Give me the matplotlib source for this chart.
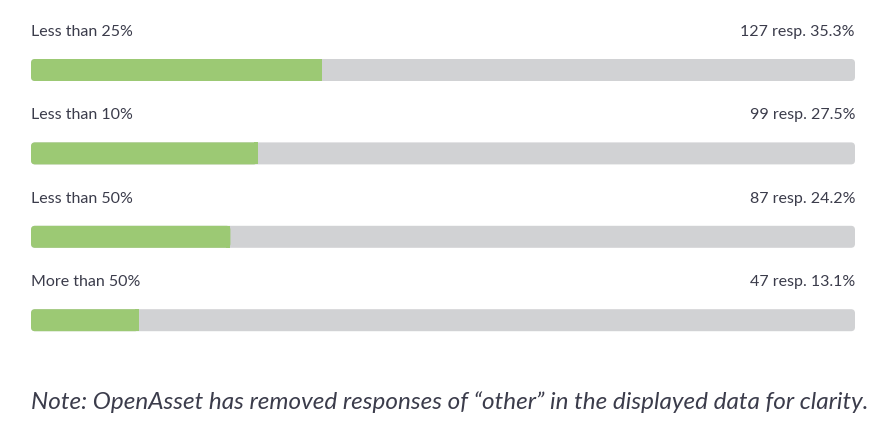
import matplotlib
matplotlib.use('Agg')
import matplotlib.pyplot as plt
from matplotlib.patches import FancyBboxPatch, Rectangle

# survey answers, shown in the order of the picture
labels = ['Less than 25%', 'Less than 10%', 'Less than 50%', 'More than 50%']
responses = [127, 99, 87, 47]
percents = [35.3, 27.5, 24.2, 13.1]
note = 'Note: OpenAsset has removed responses of \u201cother\u201d in the displayed data for clarity.'

green = '#9cc974'
grey = '#d1d2d4'
ink = '#3b3c4b'

W, H = 892, 434
fig = plt.figure(figsize=(W / 100, H / 100), dpi=100)
plt.rcParams['font.family'] = ['Lato', 'DejaVu Sans']

left_px, bar_px = 31, 824
ax = fig.add_axes([left_px / W, 0, bar_px / W, 1])
ax.set_xlim(0, 100)
ax.set_ylim(H, 0)
ax.axis('off')

px_per_unit = bar_px / 100
radius = 4 / px_per_unit
aspect = px_per_unit
bar_h = 22
first_center, step = 70, 83.4

for i, (lab, n, p) in enumerate(zip(labels, responses, percents)):
    yc = first_center + step * i
    y0 = yc - bar_h / 2
    bg = FancyBboxPatch((0, y0), 100, bar_h,
                        boxstyle=f'round,pad=0,rounding_size={radius}',
                        mutation_aspect=aspect, fc=grey, ec='none')
    ax.add_patch(bg)
    fg = FancyBboxPatch((0, y0), p, bar_h,
                        boxstyle=f'round,pad=0,rounding_size={radius}',
                        mutation_aspect=aspect, fc=green, ec='none')
    ax.add_patch(fg)
    # square off the right end of the green part
    ax.add_patch(Rectangle((p - radius, y0), radius, bar_h, fc=green, ec='none'))

    ax.text(0, yc - 38, lab, ha='left', va='center', fontsize=11.5, color=ink)
    ax.text(100, yc - 38, f'{n} resp. {p}%', ha='right', va='center',
            fontsize=11.5, color=ink)

fig.text(left_px / W, 1 - 402 / H, note, ha='left', va='center',
         fontsize=17.5, style='italic', color=ink)

fig.savefig('out.png', dpi=100, facecolor='white')
